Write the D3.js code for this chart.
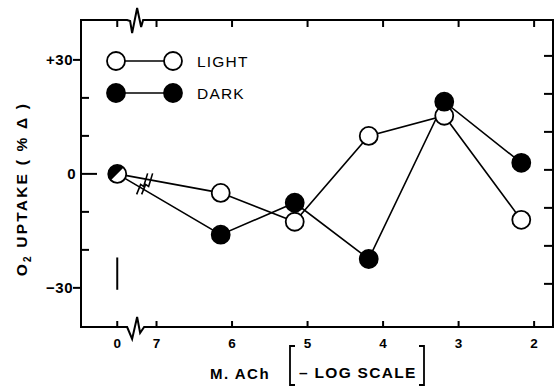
<!DOCTYPE html>
<html><head><meta charset="utf-8">
<script src="https://cdn.jsdelivr.net/npm/d3@7"></script>
<style>
html,body{margin:0;padding:0;background:#fff;}
svg{display:block;}
text{font-family:"Liberation Sans",Arial,sans-serif;fill:#000;}
</style></head>
<body>
<svg id="chart" width="556" height="387"></svg>
<script>
// ---- data ----
const seriesNames = ["LIGHT", "DARK"];
const controlPos = 7.52;            // position of the "0" (control) on the -log axis
const concentrations = [6.15, 5.17, 4.19, 3.19, 2.17]; // -log M ACh
const lightValues = [0, -5, -12.6, 10, 15.3, -12.1];   // first = control
const darkValues  = [0, -16, -7.6, -22.4, 19, 2.9];
const xTickLabels = ["0", "7", "6", "5", "4", "3", "2"];
const xTickPos    = [7.52, 7, 6, 5, 4, 3, 2];
const yTickValues = [-30, -20, -10, 0, 10, 20, 30];
const yTickLabels = {"30": "+30", "0": "0", "-30": "\u221230"};
const errorBar = [-30.5, -22];      // representative SE bar at control
const breakPos = 7.27;

// ---- layout ----
const L = 81, R = 553, T = 20, B = 327;
const svg = d3.select("#chart");
const x = d3.scaleLinear().domain([8.0, 1.75]).range([L, R]);
const y = d3.scaleLinear().domain([-40.3, 40.5]).range([B, T]);

const g = svg.append("g");
const ax = g.append("g").attr("fill", "none").attr("stroke", "#000").attr("stroke-width", 2);

// frame with breaks
const bx = x(breakPos);
ax.append("path").attr("d",
  `M${L},${T} L${bx-9},${T} L${bx-6},${T+1} L${bx-4},${T+13} L${bx+1},${T-12} L${bx+5},${T+7} L${bx+7},${T} L${R},${T}`);
ax.append("path").attr("d",
  `M${L},${B} L${bx-9},${B} L${bx-4},${B+12} L${bx+1},${B-10} L${bx+4},${B+6} L${bx+8},${B} L${R},${B}`);
ax.append("line").attr("x1", L).attr("x2", L).attr("y1", T-1).attr("y2", B+1);
ax.append("line").attr("x1", R).attr("x2", R).attr("y1", T-1).attr("y2", B+1);

// x ticks (inward, top and bottom)
xTickPos.forEach(p => {
  ax.append("line").attr("x1", x(p)).attr("x2", x(p)).attr("y1", T).attr("y2", T+7);
  ax.append("line").attr("x1", x(p)).attr("x2", x(p)).attr("y1", B).attr("y2", B-6);
});
g.selectAll(".xl").data(xTickLabels).join("text")
  .attr("x", (d,i) => x(xTickPos[i])).attr("y", 348)
  .attr("text-anchor", "middle").attr("font-size", 13.5).attr("font-weight", "bold")
  .text(d => d);

// y ticks
yTickValues.forEach(v => {
  const labeled = yTickLabels[String(v)] !== undefined;
  if (v === 0) {
    ax.append("line").attr("x1", L).attr("x2", L+16).attr("y1", y(v)).attr("y2", y(v));
  } else if (labeled) {
    ax.append("line").attr("x1", L-8).attr("x2", L).attr("y1", y(v)).attr("y2", y(v));
  } else {
    ax.append("line").attr("x1", L).attr("x2", L+8).attr("y1", y(v)).attr("y2", y(v));
  }
  ax.append("line").attr("x1", R).attr("x2", R-9).attr("y1", y(v)-4).attr("y2", y(v)-4);
});
Object.keys(yTickLabels).forEach(k => {
  g.append("text").attr("x", +k === 0 ? 76 : 73).attr("y", y(+k) + 5.5)
    .attr("text-anchor", "end").attr("font-size", 15).attr("font-weight", "bold")
    .attr("letter-spacing", 0.5)
    .text(yTickLabels[k]);
});

// error bar
g.append("line").attr("x1", x(controlPos)).attr("x2", x(controlPos))
  .attr("y1", y(errorBar[0])).attr("y2", y(errorBar[1]))
  .attr("stroke", "#000").attr("stroke-width", 2);

// data lines
const allX = [controlPos].concat(concentrations);
const line = d3.line().x((d,i) => x(allX[i])).y(d => y(d));
[lightValues, darkValues].forEach(vals => {
  g.append("path").attr("d", line(vals)).attr("fill", "none")
    .attr("stroke", "#000").attr("stroke-width", 1.6);
});

// break marks on the lines
const mx = x(breakPos) + 8, my = y(-2.5);
[-2.5, 2.5].forEach(o => {
  g.append("path").attr("d",
    `M${mx-5+o},${my+11} L${mx-1+o},${my+1} L${mx+2+o},${my+3} L${mx+6+o},${my-10}`)
    .attr("fill", "none").attr("stroke", "#000").attr("stroke-width", 1.6);
});

// points
const r = 9;
function pts(vals, filled) {
  vals.forEach((v,i) => {
    if (i === 0) return;
    g.append("circle").attr("cx", x(allX[i])).attr("cy", y(v)).attr("r", r)
      .attr("fill", filled ? "#000" : "#fff").attr("stroke", "#000").attr("stroke-width", 1.8);
  });
}
pts(lightValues, false);
pts(darkValues, true);
// control point: overlapping light & dark -> half filled
{
  const cx = x(controlPos), cy = y(lightValues[0]);
  g.append("circle").attr("cx", cx).attr("cy", cy).attr("r", r)
    .attr("fill", "#fff").attr("stroke", "#000").attr("stroke-width", 1.8);
  const a = r * Math.SQRT1_2;
  g.append("path").attr("d",
    `M${cx+a},${cy-a} A${r},${r} 0 0 0 ${cx-a},${cy+a} Z`).attr("fill", "#000");
}

// legend
const legY = [61, 93];
seriesNames.forEach((n, i) => {
  const yy = legY[i], x1 = 116, x2 = 173;
  g.append("line").attr("x1", x1).attr("x2", x2).attr("y1", yy).attr("y2", yy)
    .attr("stroke", "#000").attr("stroke-width", 1.6);
  [x1, x2].forEach(cx => g.append("circle").attr("cx", cx).attr("cy", yy).attr("r", r)
    .attr("fill", i === 0 ? "#fff" : "#000").attr("stroke", "#000").attr("stroke-width", 1.8));
  g.append("text").attr("x", 197).attr("y", yy + 5.5).attr("font-size", 15.5)
    .attr("letter-spacing", 1.2).text(n);
});

// y axis title
const yt = g.append("text").attr("transform", "translate(27,189) rotate(-90)")
  .attr("text-anchor", "middle").attr("font-size", 15.5).attr("font-weight", "bold")
  .attr("letter-spacing", 2.2);
yt.append("tspan").text("O");
yt.append("tspan").attr("font-size", 10).attr("dy", 4).text("2");
yt.append("tspan").attr("dy", -4).text(" UPTAKE ( % \u0394 )");

// x axis title
g.append("text").attr("x", 210).attr("y", 379).attr("font-size", 15).attr("font-weight", "bold")
  .attr("letter-spacing", 1.5).text("M. ACh");
g.append("text").attr("x", 299).attr("y", 378).attr("font-size", 15.5).attr("font-weight", "bold")
  .attr("letter-spacing", 1.3).text("\u2013 LOG SCALE");
const br = g.append("g").attr("fill", "none").attr("stroke", "#000").attr("stroke-width", 1.8);
br.append("path").attr("d", "M295,346 L290,346 L290,385 L295,385");
br.append("path").attr("d", "M419,346 L424,346 L424,385 L419,385");
</script>
</body></html>
